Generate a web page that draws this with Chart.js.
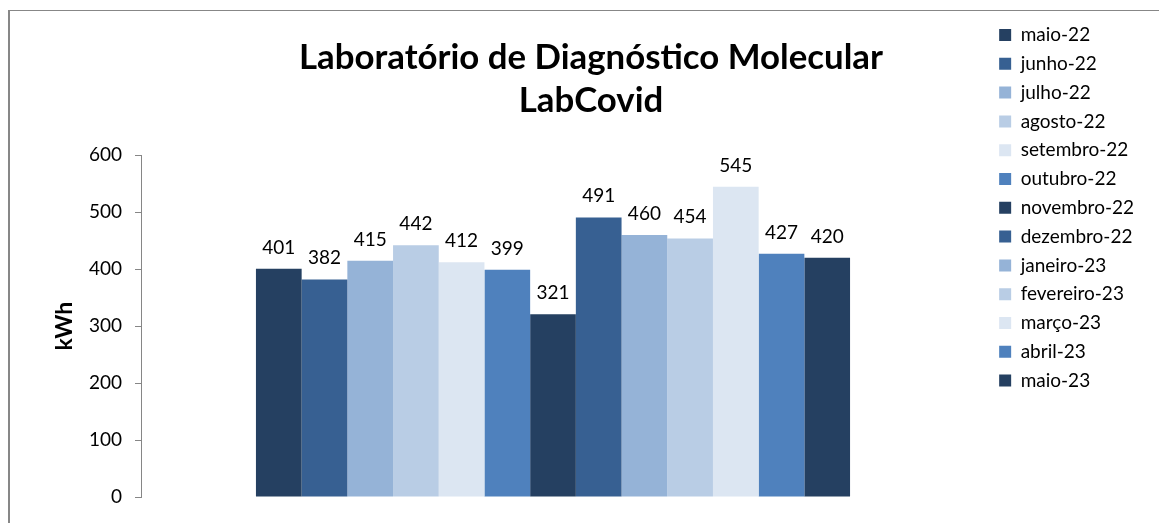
<!DOCTYPE html>
<html>
<head>
<meta charset="utf-8">
<script src="https://cdn.jsdelivr.net/npm/chart.js@4.4.1/dist/chart.umd.min.js"></script>
<style>
  html, body { margin: 0; padding: 0; background: #fff; overflow: hidden; }
  #wrap { position: relative; width: 1159px; height: 523px; }
  #frame { position: absolute; left: 8px; top: 10px; width: 1200px; height: 600px;
           border-left: 2px solid #878787; border-top: 1px solid #878787; }
  #cv { position: absolute; left: 0; top: 0; }
</style>
</head>
<body>
<div id="wrap">
  <div id="frame"></div>
  <canvas id="cv" width="1159" height="523"></canvas>
</div>
<script>
// ---- data ----
const months = ['maio-22','junho-22','julho-22','agosto-22','setembro-22','outubro-22',
                'novembro-22','dezembro-22','janeiro-23','fevereiro-23','março-23','abril-23','maio-23'];
const values = [401, 382, 415, 442, 412, 399, 321, 491, 460, 454, 545, 427, 420];
const colors = ['#254061','#376092','#95B3D7','#B9CDE5','#DCE6F2','#4F81BD',
                '#254061','#376092','#95B3D7','#B9CDE5','#DCE6F2','#4F81BD','#254061'];
const yTicks = [0, 100, 200, 300, 400, 500, 600];
const titleLines = ['Laboratório de Diagnóstico Molecular', 'LabCovid'];
const yTitle = 'kWh';

// ---- layout constants ----
const PAD_L = 38, PAD_R = 15, PAD_T = 0, PAD_B = 26;
const AXIS_X = 141;      // y axis line
const PLOT_RIGHT = 965;  // right edge of plotting area
const FONT = 'Lato';

Chart.defaults.color = '#000';
Chart.defaults.font.family = FONT;

const valueLabels = {
  id: 'valueLabels',
  afterDatasetsDraw(chart) {
    const ctx = chart.ctx;
    ctx.save();
    ctx.font = '19px ' + FONT;
    ctx.fillStyle = '#000';
    ctx.textAlign = 'center';
    ctx.textBaseline = 'alphabetic';
    chart.data.datasets.forEach((ds, i) => {
      const meta = chart.getDatasetMeta(i);
      if (meta.hidden) return;
      meta.data.forEach((bar, j) => {
        ctx.fillText(String(ds.data[j]), bar.x, bar.y - 15);
      });
    });
    ctx.restore();
  }
};

new Chart(document.getElementById('cv'), {
  type: 'bar',
  data: {
    labels: [''],
    datasets: months.map((m, i) => ({
      label: m,
      data: [values[i]],
      backgroundColor: colors[i],
      borderWidth: 0,
      categoryPercentage: 0.721,
      barPercentage: 1.0
    }))
  },
  options: {
    responsive: false,
    animation: false,
    devicePixelRatio: 1,
    layout: { padding: { left: PAD_L, right: PAD_R, top: PAD_T, bottom: PAD_B } },
    plugins: {
      title: {
        display: true,
        text: titleLines,
        color: '#000',
        font: { family: FONT, size: 34.8, weight: 'bold', lineHeight: 1.24 },
        padding: { top: 36, bottom: 33 }
      },
      legend: {
        position: 'right',
        align: 'start',
        title: { display: true, text: '', font: { size: 10 }, padding: { top: 3.7, bottom: 0 } },
        labels: {
          boxWidth: 12,
          boxHeight: 12,
          padding: 9.8,
          color: '#000',
          font: { family: FONT, size: 19 }
        }
      },
      tooltip: { enabled: false }
    },
    scales: {
      x: { display: false },
      y: {
        position: 'left',
        min: 0,
        max: 600,
        afterBuildTicks(scale) { scale.ticks = yTicks.map(v => ({ value: v })); },
        afterFit(scale) { scale.width = AXIS_X - PAD_L; },
        ticks: { color: '#000', font: { family: FONT, size: 19 }, padding: 13 },
        grid: { display: true, drawOnChartArea: false, drawTicks: true, tickLength: 6, color: '#868686' },
        border: { display: true, color: '#868686', width: 1 },
        title: {
          display: true,
          text: yTitle,
          color: '#000',
          font: { family: FONT, size: 23, weight: 'bold' },
          padding: { top: 13, bottom: 0 }
        }
      },
      y2: {
        position: 'right',
        display: true,
        min: 0, max: 600,
        ticks: { display: false },
        grid: { display: false, drawTicks: false },
        border: { display: false },
        afterFit(scale) {
          const lg = scale.chart.legend;
          const lw = lg ? lg.width : 0;
          scale.width = Math.max(0, scale.chart.width - PAD_R - lw - PLOT_RIGHT);
        }
      }
    }
  },
  plugins: [valueLabels]
});
</script>
</body>
</html>
